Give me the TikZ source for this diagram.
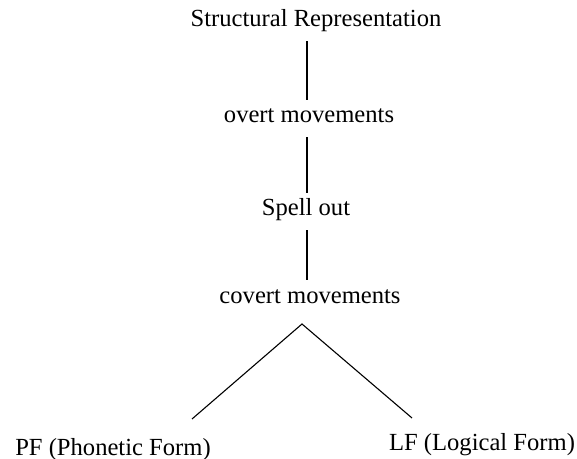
\documentclass[tikz,border=0pt]{standalone}
\usepackage{fontspec}
\setmainfont{Liberation Serif}
\usepackage{tikz}
\usetikzlibrary{calc, positioning}

\begin{document}
\begin{tikzpicture}[
  x=0.5pt, y=-0.5pt,
  font=\fontsize{12.3}{14}\selectfont,
  lbl/.style={anchor=base, inner sep=0pt, text height=8pt, text depth=2.5pt},
  stem/.style={line width=0.65pt, shorten <=4.5pt, shorten >=3.5pt},
  branch/.style={line width=0.55pt}
]
\useasboundingbox (0,0) rectangle (577,459);

%% --- derivation, top to bottom ---
\node[lbl] (sr)     at (316, 27)  {Structural Representation};
\node[lbl] (overt)  at (309, 123) {overt movements};
\node[lbl] (spell)  at (306, 216) {Spell out};
\node[lbl] (covert) at (310, 303) {covert movements};

\coordinate (axis) at (307, 0);

\draw[stem] (sr.south -| axis)    -- (overt.north -| axis);
\draw[stem] (overt.south -| axis) -- (spell.north -| axis);
\draw[stem] (spell.south -| axis) -- (covert.north -| axis);

%% --- the two interfaces ---
\node[lbl] (pf) at (113, 455) {PF (Phonetic Form)};
\node[lbl] (lf) at (482, 450) {LF (Logical Form)};

\coordinate (fork)  at (302, 324);
\coordinate (pfend) at (192, 419);
\coordinate (lfend) at (412, 418);

\draw[branch] (pfend) -- (fork) -- (lfend);

\end{tikzpicture}
\end{document}
